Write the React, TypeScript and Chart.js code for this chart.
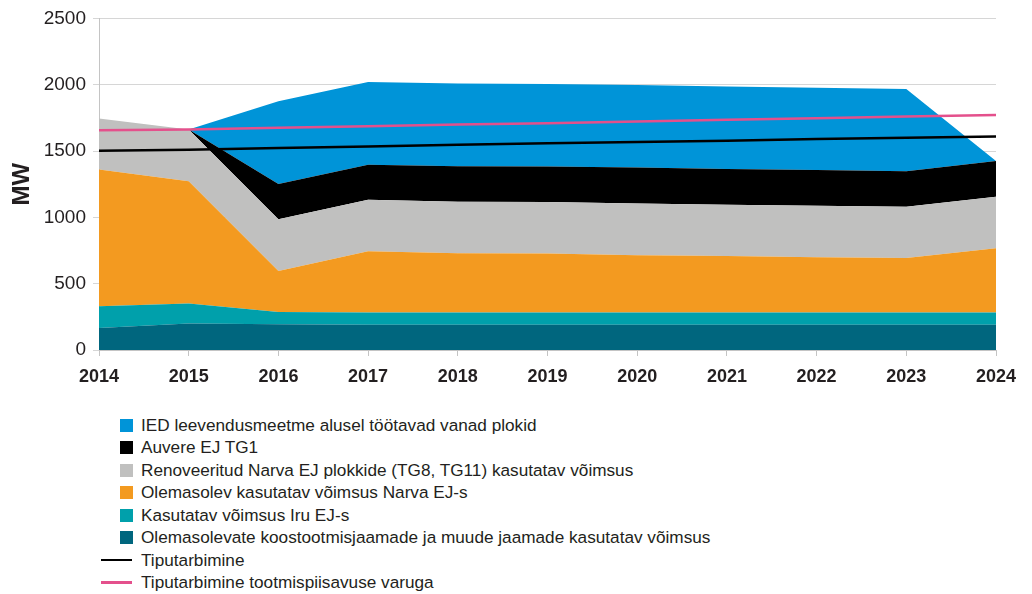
import React, { useEffect, useRef } from 'react';
import { Chart, registerables } from 'chart.js';

Chart.register(...registerables);

// ---- Data ----
const years = ['2014', '2015', '2016', '2017', '2018', '2019', '2020', '2021', '2022', '2023', '2024'];

const koostootmine = [165, 200, 195, 190, 190, 190, 190, 190, 190, 190, 190];
const iru = [165, 150, 92, 92, 92, 92, 92, 92, 92, 92, 92];
const narvaOlemasolev = [1030, 922, 308, 463, 448, 445, 433, 426, 418, 411, 486];
const renoveeritud = [385, 390, 390, 387, 387, 388, 390, 387, 387, 387, 387];
const auvere = [0, 0, 267, 265, 268, 268, 270, 270, 270, 267, 270];
const ied = [0, 0, 623, 623, 625, 622, 622, 622, 620, 620, 0];

const tiputarbimine = [1502, 1510, 1522, 1535, 1548, 1558, 1568, 1578, 1590, 1600, 1610];
const tiputarbimineVaruga = [1657, 1662, 1675, 1687, 1700, 1710, 1722, 1735, 1747, 1760, 1772];

const yTicks = [0, 500, 1000, 1500, 2000, 2500];
const yTickLabels = ['0', '500', '1000', '1500', '2000', '2500'];

const labelsArea = [
  'Olemasolevate koostootmisjaamade ja muude jaamade kasutatav võimsus',
  'Kasutatav võimsus Iru EJ-s',
  'Olemasolev kasutatav võimsus Narva EJ-s',
  'Renoveeritud Narva EJ plokkide (TG8, TG11) kasutatav võimsus',
  'Auvere EJ TG1',
  'IED leevendusmeetme alusel töötavad vanad plokid',
];
const labelsLine = ['Tiputarbimine', 'Tiputarbimine tootmispiisavuse varuga'];

const areaColors = ['#00667e', '#00a0ab', '#f39a20', '#c0c0bf', '#000000', '#0094d8'];
const lineColors = ['#000000', '#e4508c'];

const FONT = "'Liberation Sans', Arial, sans-serif";
const TEXT = '#231f20';

export default function App() {
  const ref = useRef<HTMLCanvasElement>(null);

  useEffect(() => {
    document.body.style.margin = '0';
    const areaData = [koostootmine, iru, narvaOlemasolev, renoveeritud, auvere, ied];
    const lineData = [tiputarbimine, tiputarbimineVaruga];

    const datasets: any[] = areaData.map((d, i) => ({
      label: labelsArea[i],
      data: d,
      backgroundColor: areaColors[i],
      borderColor: areaColors[i],
      borderWidth: 0,
      fill: i === 0 ? 'origin' : '-1',
      pointRadius: 0,
      tension: 0,
      yAxisID: 'y',
      order: 1,
    }));
    lineData.forEach((d, i) => {
      datasets.push({
        label: labelsLine[i],
        data: d,
        borderColor: lineColors[i],
        backgroundColor: lineColors[i],
        borderWidth: 2.5,
        fill: false,
        pointRadius: 0,
        tension: 0,
        yAxisID: 'y2',
        order: 0,
      });
    });

    const chart = new Chart(ref.current!, {
      type: 'line',
      data: { labels: years, datasets },
      options: {
        responsive: false,
        animation: false,
        layout: { padding: { left: 0, right: 36, top: 17, bottom: 0 } },
        plugins: { legend: { display: false }, tooltip: { enabled: false } },
        scales: {
          x: {
            type: 'category',
            offset: false,
            grid: { drawOnChartArea: false, drawTicks: true, tickLength: 6, color: '#c4c4c4' },
            border: { color: '#c4c4c4' },
            ticks: {
              font: { family: FONT, size: 18, weight: 'bold' },
              color: TEXT,
              padding: 10,
              maxRotation: 0,
              autoSkip: false,
            },
            afterFit: (s: any) => {
              s.height = 50;
            },
          },
          y: {
            stacked: true,
            min: 0,
            max: 2500,
            afterBuildTicks: (s: any) => {
              s.ticks = yTicks.map((v) => ({ value: v }));
            },
            ticks: {
              font: { family: FONT, size: 19 },
              color: TEXT,
              padding: 7,
              callback: (v: any) => {
                const idx = yTicks.indexOf(Number(v));
                return idx >= 0 ? yTickLabels[idx] : String(v);
              },
            },
            grid: { color: '#d6d6d6', tickLength: 6 },
            border: { color: '#c4c4c4' },
            title: {
              display: true,
              text: 'MW',
              color: TEXT,
              font: { family: FONT, size: 24, weight: 'bold' },
              padding: { top: 8, bottom: 0 },
            },
            afterFit: (s: any) => {
              s.width = 99;
            },
          },
          y2: { display: false, min: 0, max: 2500 },
        },
      },
    });
    return () => chart.destroy();
  }, []);

  const legendItems = [
    ...labelsArea.map((l, i) => ({ label: l, color: areaColors[i], kind: 'box' })).reverse(),
    ...labelsLine.map((l, i) => ({ label: l, color: lineColors[i], kind: 'line' })),
  ];

  return (
    <div style={{ position: 'relative', width: 1032, height: 594, background: '#fff' }}>
      <canvas ref={ref} width={1032} height={400} style={{ position: 'absolute', left: 0, top: 0 }} />
      {legendItems.map((it, i) => (
        <div
          key={i}
          style={{
            position: 'absolute',
            left: 100,
            top: 425 - 11.25 + 22.5 * i,
            height: 22.5,
            display: 'flex',
            alignItems: 'center',
            fontFamily: FONT,
            fontSize: 17.2,
            color: TEXT,
            whiteSpace: 'nowrap',
          }}
        >
          <div style={{ position: 'relative', width: 41, height: 22.5, flex: 'none' }}>
            {it.kind === 'box' ? (
              <div style={{ position: 'absolute', left: 20, top: 4.75, width: 13, height: 13, background: it.color }} />
            ) : (
              <div style={{ position: 'absolute', left: 1, top: 10, width: 31, height: 2.5, background: it.color }} />
            )}
          </div>
          <span>{it.label}</span>
        </div>
      ))}
    </div>
  );
}
